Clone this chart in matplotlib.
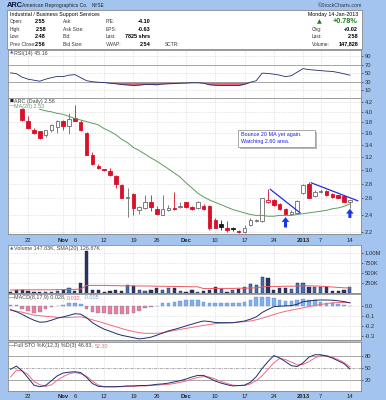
from __future__ import annotations

import matplotlib

matplotlib.use("Agg")
import matplotlib.pyplot as plt
from matplotlib.patches import Rectangle
from matplotlib.ticker import NullFormatter, NullLocator
from matplotlib.transforms import blended_transform_factory

W, H = 386, 400
FRAME = "#a3c4ef"
RED = "#d8102a"
UP_GRAY = "#6a6a6a"
UP_BLACK = "#1a1a1a"
NAVY = "#1f2d6b"
PINK = "#f0607a"
GRID = "#cfcfcf"
BORDER = "#8a8a8a"
FONT = "Liberation Sans"

# trading days Oct 17 2012 .. Jan 14 2013 (index positions)
date_labels = ["22", "Nov", "6", "12", "19", "26", "Dec", "10", "17", "24", "2013", "7", "14"]
date_label_idx = [3, 9, 11, 16, 21, 25, 30, 35, 40, 45, 50, 53, 58]
month_labels = {"Nov", "Dec", "2013"}

opens = [None, None, 4.05, 3.82, 3.65, 3.63, 3.56, 3.65, 3.71, 3.82, 3.73, 3.88, 3.81, 3.60, 3.23,
         3.06, 3.01, 2.98, 2.91, 2.78, 2.60, 2.66, 2.46, 2.48, 2.55, 2.47, 2.40, 2.46, 2.48, 2.49,
         2.55, 2.49, 2.48, 2.51, 2.51, 2.33, 2.29, 2.25, 2.24, 2.21, 2.20, 2.28, 2.32, 2.32, 2.55,
         2.58, 2.53, 2.47, 2.41, 2.42, 2.67, 2.80, 2.63, 2.68, 2.70, 2.66, 2.64, 2.63, 2.55]
highs = [None, None, 4.07, 3.92, 3.70, 3.64, 3.66, 3.76, 3.85, 3.84, 3.97, 4.14, 3.85, 3.61, 3.28,
         3.09, 3.01, 3.02, 2.92, 2.80, 2.74, 2.67, 2.50, 2.64, 2.64, 2.50, 2.64, 2.52, 2.69, 2.55,
         2.56, 2.51, 2.57, 2.53, 2.52, 2.36, 2.33, 2.32, 2.26, 2.22, 2.28, 2.36, 2.35, 2.61, 2.72,
         2.59, 2.54, 2.48, 2.45, 2.58, 2.80, 2.82, 2.71, 2.72, 2.71, 2.67, 2.65, 2.64, 2.58]
lows = [None, None, 3.83, 3.68, 3.59, 3.50, 3.53, 3.62, 3.60, 3.65, 3.58, 3.82, 3.64, 3.22, 3.07,
        3.01, 2.98, 2.90, 2.74, 2.60, 2.37, 2.39, 2.41, 2.47, 2.44, 2.40, 2.39, 2.44, 2.46, 2.48,
        2.48, 2.45, 2.47, 2.46, 2.22, 2.24, 2.22, 2.20, 2.21, 2.19, 2.19, 2.27, 2.31, 2.31, 2.54,
        2.51, 2.46, 2.40, 2.39, 2.41, 2.66, 2.60, 2.62, 2.67, 2.63, 2.61, 2.60, 2.55, 2.48]
closes = [None, None, 3.84, 3.69, 3.60, 3.51, 3.65, 3.75, 3.82, 3.72, 3.86, 3.83, 3.65, 3.23, 3.09,
          3.02, 2.99, 2.92, 2.79, 2.61, 2.62, 2.48, 2.49, 2.55, 2.49, 2.41, 2.47, 2.48, 2.47, 2.51,
          2.49, 2.47, 2.55, 2.47, 2.25, 2.25, 2.26, 2.22, 2.23, 2.20, 2.24, 2.33, 2.34, 2.60, 2.58,
          2.52, 2.47, 2.41, 2.43, 2.57, 2.78, 2.61, 2.69, 2.70, 2.64, 2.62, 2.61, 2.56, 2.58]
ma20 = [None] * 5 + [4.05, 4.02, 4.00, 3.97, 3.95, 3.91, 3.87, 3.84, 3.81, 3.78, 3.75, 3.68, 3.63,
                     3.57, 3.49, 3.43, 3.35, 3.30, 3.24, 3.18, 3.13, 3.07, 3.01, 2.95, 2.89, 2.81,
                     2.74, 2.67, 2.62, 2.58, 2.55, 2.52, 2.49, 2.46, 2.44, 2.42, 2.40, 2.39, 2.39,
                     2.38, 2.38, 2.39, 2.39, 2.39, 2.40, 2.41, 2.42, 2.43, 2.44, 2.45, 2.47, 2.48,
                     2.50, 2.53]

rsi14 = [50.7, 48.8, 40.6, 35.9, 33.5, 31.2, 35.9, 39.4, 42.5, 41.8, 45.3, 46.5, 39.4, 32.4, 30.0,
         28.8, 28.1, 26.5, 25.3, 23.4, 22.5, 21.3, 22.2, 23.6, 23.4, 22.9, 24.6, 25.3, 25.8, 26.5,
         26.9, 27.6, 27.6, 26.5, 22.9, 21.8, 21.3, 21.1, 21.3, 21.1, 24.1, 28.8, 32.4, 50.0, 49.3,
         47.6, 45.3, 41.8, 44.1, 52.4, 60.6, 58.2, 57.1, 55.9, 54.7, 54.0, 51.5, 48.5, 45.2]

volume_m = [0.03, 0.075, 0.07, 0.05, 0.03, 0.02, 0.03, 0.03, 0.06, 0.075, 0.13, 0.05, 0.24, 1.05,
            0.075, 0.075, 0.03, 0.05, 0.075, 0.06, 0.20, 0.18, 0.075, 0.05, 0.075, 0.13, 0.075, 0.13,
            0.13, 0.05, 0.03, 0.075, 0.03, 0.05, 0.075, 0.16, 0.10, 0.03, 0.075, 0.10, 0.15, 0.22,
            0.20, 0.41, 0.37, 0.075, 0.12, 0.12, 0.10, 0.25, 0.25, 0.15, 0.14, 0.15, 0.15, 0.05,
            0.05, 0.075, 0.148]
volume_sma = [0.075, 0.075, 0.08, 0.08, 0.08, 0.08, 0.08, 0.08, 0.085, 0.085, 0.09, 0.09, 0.10,
              0.19, 0.19, 0.19, 0.19, 0.185, 0.185, 0.18, 0.18, 0.18, 0.175, 0.175, 0.175, 0.17,
              0.17, 0.165, 0.165, 0.16, 0.16, 0.155, 0.155, 0.11, 0.11, 0.115, 0.115, 0.115, 0.115,
              0.12, 0.12, 0.125, 0.13, 0.15, 0.165, 0.165, 0.165, 0.17, 0.17, 0.175, 0.18, 0.18,
              0.175, 0.17, 0.16, 0.15, 0.14, 0.13, 0.127]

macd = [-0.040, -0.060, -0.087, -0.118, -0.145, -0.165, -0.162, -0.145, -0.125, -0.112, -0.097,
        -0.080, -0.085, -0.120, -0.170, -0.205, -0.235, -0.255, -0.278, -0.296, -0.308, -0.320,
        -0.332, -0.325, -0.315, -0.295, -0.273, -0.252, -0.237, -0.220, -0.202, -0.185, -0.167,
        -0.153, -0.158, -0.168, -0.170, -0.170, -0.170, -0.162, -0.153, -0.135, -0.112, -0.068,
        -0.037, -0.010, -0.005, -0.002, 0.000, 0.015, 0.040, 0.047, 0.055, 0.057, 0.057, 0.055,
        0.049, 0.041, 0.028]
macd_signal = [-0.046, -0.055, -0.065, -0.079, -0.094, -0.100, -0.106, -0.111, -0.116, -0.120,
               -0.118, -0.114, -0.111, -0.125, -0.141, -0.158, -0.175, -0.193, -0.210, -0.228,
               -0.245, -0.258, -0.270, -0.276, -0.276, -0.276, -0.271, -0.259, -0.247, -0.237,
               -0.227, -0.217, -0.207, -0.197, -0.188, -0.179, -0.175, -0.173, -0.170, -0.164,
               -0.159, -0.153, -0.141, -0.125, -0.107, -0.088, -0.071, -0.056, -0.044, -0.033,
               -0.021, -0.009, 0.003, 0.012, 0.021, 0.029, 0.031, 0.032, 0.032]
macd_hist = [0.005, 0.005, -0.033, -0.050, -0.070, -0.060, -0.033, -0.017, -0.005, 0.010, 0.023,
             0.030, 0.017, -0.033, -0.060, -0.077, -0.077, -0.083, -0.083, -0.083, -0.083, -0.077,
             -0.050, -0.027, -0.017, -0.005, 0.023, 0.030, 0.040, 0.050, 0.057, 0.057, 0.057, 0.040,
             0.030, 0.023, 0.023, 0.023, 0.023, 0.030, 0.040, 0.057, 0.083, 0.090, 0.090, 0.073,
             0.057, 0.050, 0.050, 0.057, 0.063, 0.057, 0.057, 0.040, 0.030, 0.023, 0.017, 0.007,
             -0.005]

sto_k = [46, 54, 42, 25, 7, 3, 6, 18, 30, 37, 39, 40, 38, 26, 11, 4, 3, 3, 3, 4, 5, 5, 6, 6, 7, 9,
         10, 12, 15, 18, 22, 27, 31, 31, 24, 17, 12, 8, 5, 6, 7, 14, 28, 48, 65, 80, 74, 65, 55, 53,
         62, 76, 82, 82, 79, 74, 67, 60, 47]
sto_d = [27, 44, 42, 33, 16, 8, 4, 8, 19, 28, 35, 38, 35, 29, 17, 7, 3, 3, 3, 3, 4, 4, 5, 5, 6, 7,
         8, 9, 11, 14, 17, 22, 26, 28, 27, 22, 16, 11, 7, 6, 6, 10, 18, 30, 46, 62, 73, 70, 64, 57,
         58, 65, 74, 80, 80, 76, 70, 63, 52]

header_rows = [
    ("Open:", "2.55", "Ask:", "P/E:", "-4.10"),
    ("High:", "2.58", "Ask Size:", "EPS:", "-0.63"),
    ("Low:", "2.48", "Bid:", "Last:", "7825 shrs"),
    ("Prev Close:", "2.56", "Bid Size:", "VWAP:", "2.54"),
]
header_right = [("Chg:", "+0.02"), ("Last:", "2.58"), ("Volume:", "147,828")]

XMIN, XMAX = -0.43, 59.9


def fig_box(x0: float, y0: float, x1: float, y1: float) -> list[float]:
    return [x0 / W, 1 - y1 / H, (x1 - x0) / W, (y1 - y0) / H]


def ftext(fig, x, y, s, size=3.8, **kw):
    kw.setdefault("va", "center")
    kw.setdefault("family", FONT)
    return fig.text(x / W, 1 - y / H, s, fontsize=size, **kw)


def chain_text(fig, x, y, parts, size=3.9):
    renderer = fig.canvas.get_renderer()
    for text, color in parts:
        t = ftext(fig, x, y, text, size=size, color=color)
        x = t.get_window_extent(renderer).x1 + 1.5


def style_panel(ax, yticks, ylabels):
    ax.set_xlim(XMIN, XMAX)
    ax.set_facecolor("white")
    for spine in ax.spines.values():
        spine.set_color(BORDER)
        spine.set_linewidth(0.6)
    ax.set_xticks(date_label_idx)
    ax.set_xticklabels([])
    ax.tick_params(axis="x", length=0)
    ax.yaxis.tick_right()
    ax.set_yticks(yticks)
    ax.set_yticklabels(ylabels, family=FONT)
    ax.yaxis.set_minor_locator(NullLocator())
    ax.yaxis.set_minor_formatter(NullFormatter())
    ax.tick_params(axis="y", length=1.5, width=0.5, pad=1, labelsize=4.2,
                   colors="#333333", direction="out")
    ax.grid(True, ls=(0, (1, 1.5)), color=GRID, lw=0.5)
    ax.set_axisbelow(True)


def draw_dates(fig, ax, y):
    trans = blended_transform_factory(ax.transData, fig.transFigure)
    for idx, label in zip(date_label_idx, date_labels):
        ax.text(idx, 1 - y / H, label, transform=trans, ha="center", va="center",
                fontsize=4.2, family=FONT, color="#222222",
                fontweight="bold" if label in month_labels else "normal")


def draw_header(fig):
    ftext(fig, 7, 5.5, "ARC", size=5.4, fontweight="bold", color="#111133")
    ftext(fig, 22, 5.5, "American Reprographics Co.", size=3.6, color="#222222")
    ftext(fig, 92, 5.5, "NYSE", size=3.3, color="#222222")
    ftext(fig, 362, 5.5, "\u00a9StockCharts.com", size=3.8, ha="right", color="#333344")
    fig.add_artist(Rectangle((7 / W, 1 - 48.5 / H), 355 / W, 38.5 / H, transform=fig.transFigure,
                             facecolor="white", edgecolor=BORDER, lw=0.6))
    ftext(fig, 10, 14.3, "Industrial / Business Support Services", size=3.8)
    ftext(fig, 358, 14.3, "Monday 14-Jan-2013", size=3.8, ha="right")
    for k, (lab, val, lab2, lab3, val3) in enumerate(header_rows):
        y = 21.7 + 7.45 * k
        ftext(fig, 10, y, lab, size=3.5, color="#333333")
        ftext(fig, 46, y, val, size=4.0, ha="right", fontweight="bold")
        ftext(fig, 63, y, lab2, size=3.5, color="#333333")
        ftext(fig, 106, y, lab3, size=3.5, color="#333333")
        ftext(fig, 150.5, y, val3, size=4.0, ha="right", fontweight="bold")
    ftext(fig, 165, 44, "SCTR:", size=3.5, color="#333333")
    ftext(fig, 319, 21.5, "\u25b2", size=4.5, ha="center", color="#1d7a1d", family="DejaVu Sans")
    ftext(fig, 358, 21.5, "+0.78%", size=5.2, ha="right", fontweight="bold", color="#1d7a1d")
    for k, (lab, val) in enumerate(header_right):
        y = 29.3 + 7.4 * k
        ftext(fig, 312, y, lab, size=3.5, color="#333333")
        ftext(fig, 358, y, val, size=4.0, ha="right", fontweight="bold")


def draw_rsi(fig):
    ax = fig.add_axes(fig_box(8, 50, 361, 98))
    style_panel(ax, [90, 70, 50, 30, 10], ["90", "70", "50", "30", "10"])
    ax.set_ylim(-8, 104)
    x = list(range(len(rsi14)))
    ax.axhline(70, color="#9a9a9a", lw=0.6)
    ax.axhline(30, color="#9a9a9a", lw=0.6)
    ax.fill_between(x, rsi14, 30, where=[v < 30 for v in rsi14], interpolate=True,
                    color=PINK, lw=0)
    ax.fill_between(x, rsi14, 70, where=[v > 70 for v in rsi14], interpolate=True,
                    color="#6fa0e0", lw=0)
    ax.plot(x, rsi14, color=NAVY, lw=0.6)
    ftext(fig, 10, 53, "\u25b2", size=3.2, color="#3366cc", family="DejaVu Sans")
    ftext(fig, 14, 53, "RSI(14) 45.16", size=3.9, color="#444444")


def draw_price(fig):
    ax = fig.add_axes(fig_box(8, 98, 361, 233.5))
    ax.set_yscale("log")
    ticks = [2.2, 2.4, 2.6, 2.8, 3.0, 3.2, 3.4, 3.6, 3.8, 4.0, 4.2]
    style_panel(ax, ticks, [f"{t:.1f}" for t in ticks])
    ax.set_ylim(2.184, 4.285)

    for i, (o, h, l, c) in enumerate(zip(opens, highs, lows, closes)):
        if o is None:
            continue
        prev = closes[i - 1] if i > 0 else None
        up = prev is not None and c > prev
        filled = c < o
        if up:
            color = UP_BLACK if filled else UP_GRAY
        else:
            color = RED
        face = color if filled else "white"
        ax.vlines(i, l, h, color=color, lw=0.6, zorder=2)
        height = abs(c - o)
        if height < 0.006:
            ax.hlines((o + c) / 2, i - 0.32, i + 0.32, color=color, lw=0.8, zorder=3)
        else:
            ax.bar(i, height, bottom=min(o, c), width=0.6, facecolor=face,
                   edgecolor=color, lw=0.6, zorder=3)

    x = list(range(len(ma20)))
    ax.plot(x, [v if v is not None else float("nan") for v in ma20], color="#5f9a5f",
            lw=0.7, zorder=4)

    ax.plot([44.4, 49.5], [2.72, 2.42], color="#1f2ee6", lw=0.9, zorder=5)
    ax.plot([51.4, 59.35], [2.81, 2.57], color="#1f2ee6", lw=0.9, zorder=5)
    arrow = dict(width=2.2, headwidth=5.5, headlength=3.5, color="#1838e8", lw=0)
    ax.annotate("", xy=(47, 2.37), xytext=(47, 2.25), arrowprops=arrow, zorder=6)
    ax.annotate("", xy=(58, 2.47), xytext=(58, 2.36), arrowprops=arrow, zorder=6)

    ftext(fig, 10, 101, "\u25a0", size=3.0, color="#222222", family="DejaVu Sans")
    ftext(fig, 14, 101, "ARC (Daily) 2.58", size=3.9, color="#444444")
    ftext(fig, 9, 106.3, "\u2014", size=3.9, color="#5f9a5f")
    ftext(fig, 14, 106.3, "MA(20) 2.53", size=3.9, color="#5f9a5f")

    # note box with shadow
    fig.add_artist(Rectangle((240 / W, 1 - 149 / H), 77 / W, 17.5 / H, transform=fig.transFigure,
                             facecolor="#b8b8b8", edgecolor="none"))
    fig.add_artist(Rectangle((238 / W, 1 - 147.3 / H), 77 / W, 17.3 / H,
                             transform=fig.transFigure, facecolor="white",
                             edgecolor="#9a9a9a", lw=0.6))
    ftext(fig, 241, 134.8, "Bounce 20 MA yet again.", size=3.9, color="#1a1aee")
    ftext(fig, 241, 141.6, "Watching 2.60 area.", size=3.9, color="#1a1aee")
    draw_dates(fig, ax, 241)


def draw_volume(fig):
    ax = fig.add_axes(fig_box(8, 245, 361, 293))
    style_panel(ax, [0.25, 0.5, 0.75, 1.0], ["250K", "500K", "750K", "1.00M"])
    ax.set_ylim(0, 1.2)
    for i, v in enumerate(volume_m):
        prev = closes[i - 1] if i > 0 else None
        up = closes[i] is not None and prev is not None and closes[i] > prev
        color = "#3f72b5" if up else "#2c3560"
        ax.bar(i, v, width=0.55, color=color, edgecolor="#1c2240", lw=0.3, zorder=3)
    ax.plot(range(len(volume_sma)), volume_sma, color="#ee5566", lw=0.7, zorder=4)
    ftext(fig, 10, 248.5, "\u25b2", size=3.2, color="#3366cc", family="DejaVu Sans")
    ftext(fig, 14, 248.5, "Volume 147.83K, SMA(20) 126.87K", size=3.9, color="#444444")


def draw_macd(fig):
    ax = fig.add_axes(fig_box(8, 294, 361, 340))
    style_panel(ax, [0.0, -0.1, -0.2, -0.3], ["0.0", "-0.1", "-0.2", "-0.3"])
    ax.set_ylim(-0.343, 0.117)
    x = list(range(len(macd)))
    colors = ["#7fb0ec" if v >= 0 else "#f07d92" for v in macd_hist]
    ax.bar(x, macd_hist, width=0.62, color=colors, edgecolor="#5a7fc0", lw=0.25, zorder=3)
    ax.plot(x, macd_signal, color="#f06a80", lw=0.7, zorder=4)
    ax.plot(x, macd, color=NAVY, lw=0.7, zorder=5)
    ftext(fig, 9, 297.5, "\u2014", size=3.9, color=NAVY)
    chain_text(fig, 14, 297.5, [("MACD(8,17,9) 0.028,", "#444444"), ("0.032,", "#f06a80"),
                               ("-0.005", "#6f9fe6")])


def draw_sto(fig):
    ax = fig.add_axes(fig_box(8, 342, 361, 391))
    style_panel(ax, [80, 50, 20], ["80", "50", "20"])
    ax.set_ylim(-7.5, 113.5)
    ax.axhline(80, color="#9a9a9a", lw=0.6)
    ax.axhline(20, color="#9a9a9a", lw=0.6)
    ax.axhline(50, color="#9a9a9a", lw=0.6, ls=(0, (3, 1.5, 1, 1.5)))
    x = list(range(len(sto_k)))
    ax.plot(x, sto_d, color="#f06a80", lw=0.7, zorder=4)
    ax.plot(x, sto_k, color=NAVY, lw=0.7, zorder=5)
    ftext(fig, 9, 346, "\u2014", size=3.9, color=NAVY)
    chain_text(fig, 14, 346, [("Full STO %K(12,3) %D(3) 46.83,", "#444444"),
                              ("52.30", "#f06a80")])
    draw_dates(fig, ax, 396)


def main() -> None:
    fig = plt.figure(figsize=(W / 100, H / 100), dpi=100)
    fig.patch.set_facecolor(FRAME)
    draw_header(fig)
    draw_rsi(fig)
    draw_price(fig)
    draw_volume(fig)
    draw_macd(fig)
    draw_sto(fig)
    fig.savefig("out.png", dpi=100, facecolor=FRAME)
    plt.close(fig)


if __name__ == "__main__":
    main()
